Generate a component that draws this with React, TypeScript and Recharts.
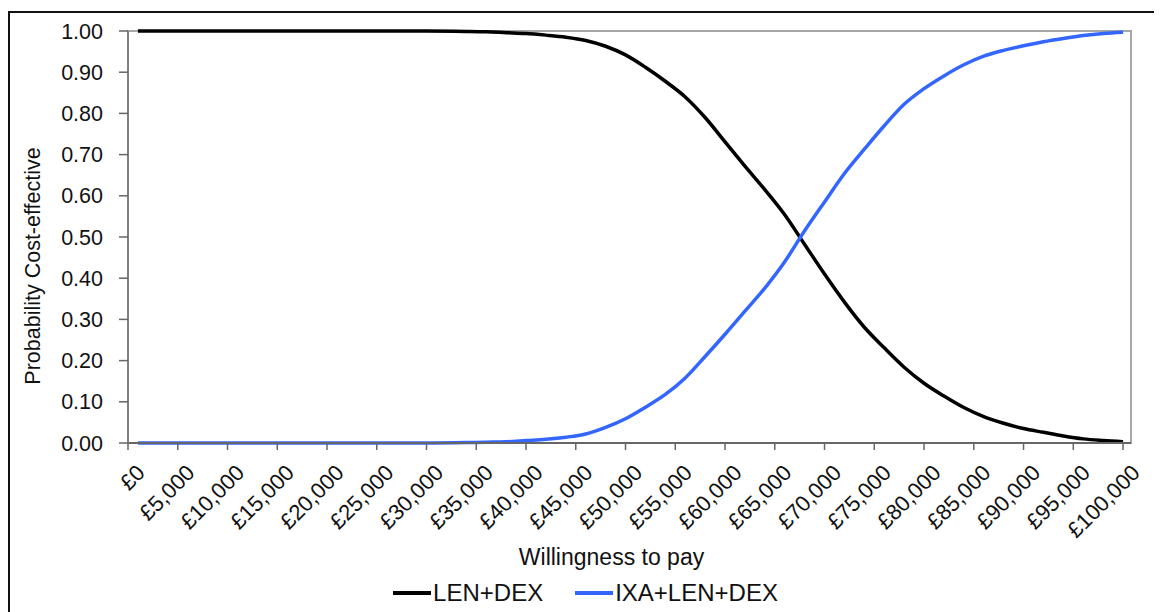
import { LineChart, Line, XAxis, YAxis, Legend, ReferenceArea } from "recharts";

// willingness-to-pay thresholds (£) and probability cost-effective
const wtp = [
  1000, 5000, 10000, 15000, 20000, 25000, 30000, 34000, 36000, 38000, 40000, 42000, 44000, 46000,
  48000, 50000, 52000, 54000, 56000, 58000, 60000, 62000, 64000, 66000, 68000, 70000, 72000, 74000,
  76000, 78000, 80000, 82000, 84000, 86000, 88000, 90000, 92000, 94000, 96000, 98000, 100000,
];
const lenDex = [
  1, 1, 1, 1, 1, 1, 1, 0.999, 0.998, 0.996, 0.994, 0.99, 0.985, 0.977, 0.963, 0.942, 0.912, 0.878,
  0.84, 0.79, 0.731, 0.672, 0.615, 0.554, 0.482, 0.41, 0.342, 0.281, 0.231, 0.184, 0.145, 0.114,
  0.086, 0.064, 0.048, 0.035, 0.026, 0.017, 0.01, 0.006, 0.003,
];
const ixaLenDex = [
  0, 0, 0, 0, 0, 0, 0, 0.001, 0.002, 0.003, 0.006, 0.009, 0.014, 0.022, 0.038, 0.059, 0.087, 0.118,
  0.158, 0.21, 0.264, 0.32, 0.376, 0.44, 0.515, 0.585, 0.654, 0.713, 0.77, 0.822, 0.86, 0.891,
  0.918, 0.939, 0.953, 0.964, 0.974, 0.982, 0.989, 0.994, 0.997,
];
const xTicks = [
  0, 5000, 10000, 15000, 20000, 25000, 30000, 35000, 40000, 45000, 50000, 55000, 60000, 65000,
  70000, 75000, 80000, 85000, 90000, 95000, 100000,
];
const yTicks = [0, 0.1, 0.2, 0.3, 0.4, 0.5, 0.6, 0.7, 0.8, 0.9, 1];
const legendOrder = ["LEN+DEX", "IXA+LEN+DEX"];

const data = wtp.map((w, i) => ({ wtp: w, lenDex: lenDex[i], ixa: ixaLenDex[i] }));

const FONT = "'Liberation Sans', Arial, sans-serif";

const money = (v: number) => "£" + String(v).replace(/\B(?=(\d{3})+(?!\d))/g, ",");

function XTick({ x, y, payload }: any) {
  return (
    <g transform={`translate(${x + 7},${y + 6})`}>
      <text
        textAnchor="end"
        transform="rotate(-45)"
        dy="0.72em"
        fontSize={22}
        fill="#111"
        fontFamily={FONT}
      >
        {money(payload.value)}
      </text>
    </g>
  );
}

function YTitle({ viewBox }: any) {
  const cx = 23;
  const cy = viewBox.y + viewBox.height / 2 + 29;
  return (
    <text
      x={cx}
      y={cy}
      transform={`rotate(-90, ${cx}, ${cy})`}
      textAnchor="middle"
      dominantBaseline="central"
      fontSize={21.5}
      fill="#111"
      fontFamily={FONT}
    >
      Probability Cost-effective
    </text>
  );
}

function LegendBox({ payload }: any) {
  const items = [...(payload || [])].sort(
    (a: any, b: any) => legendOrder.indexOf(a.value) - legendOrder.indexOf(b.value)
  );
  return (
    <div
      style={{
        display: "flex",
        justifyContent: "center",
        gap: 32,
        paddingLeft: 30,
        fontFamily: FONT,
        fontSize: 24,
        color: "#111",
        lineHeight: "26px",
      }}
    >
      {items.map((p: any) => (
        <span key={p.value} style={{ display: "flex", alignItems: "center" }}>
          <span style={{ width: 38, height: 4, background: p.color, marginRight: 2 }} />
          {p.value}
        </span>
      ))}
    </div>
  );
}

export default function App() {
  return (
    <div style={{ width: 1154, height: 604, overflow: "hidden", paddingTop: 3, boxSizing: "border-box" }}>
      <div
        style={{
          width: 1200,
          height: 700,
          borderTop: "2px solid #111",
          borderLeft: "2px solid #111",
          background: "#fff",
        }}
      >
        <LineChart
          width={1152}
          height={598}
          data={data}
          margin={{ top: 18, right: 31, left: 0, bottom: 5 }}
        >
          <XAxis
            dataKey="wtp"
            type="number"
            domain={[0, 100800]}
            ticks={xTicks}
            interval={0}
            height={137}
            tickSize={7}
            tickMargin={7}
            tick={<XTick />}
            axisLine={{ stroke: "#666", strokeWidth: 2 }}
            tickLine={{ stroke: "#666", strokeWidth: 1.5 }}
            label={{
              value: "Willingness to pay",
              position: "insideBottom",
              offset: 15,
              dx: -18,
              fontSize: 23,
              fill: "#111",
              fontFamily: FONT,
            }}
          />
          <YAxis
            type="number"
            domain={[0, 1]}
            ticks={yTicks}
            width={118}
            tickSize={9}
            tickMargin={16}
            tickFormatter={(v: number) => v.toFixed(2)}
            tick={{ fontSize: 21.5, fill: "#111", fontFamily: FONT }}
            axisLine={{ stroke: "#808080", strokeWidth: 2 }}
            tickLine={{ stroke: "#666", strokeWidth: 1.5 }}
            label={<YTitle />}
          />
          <ReferenceArea
            x1={0}
            x2={100800}
            y1={0}
            y2={1}
            fill="none"
            stroke="#a6a6a6"
            strokeWidth={2}
            ifOverflow="visible"
          />
          <Legend verticalAlign="bottom" align="center" content={<LegendBox />} />
          <Line
            type="monotone"
            dataKey="lenDex"
            name="LEN+DEX"
            stroke="#000000"
            strokeWidth={3.5}
            dot={false}
            isAnimationActive={false}
          />
          <Line
            type="monotone"
            dataKey="ixa"
            name="IXA+LEN+DEX"
            stroke="#3366ff"
            strokeWidth={3.5}
            dot={false}
            isAnimationActive={false}
          />
        </LineChart>
      </div>
    </div>
  );
}
